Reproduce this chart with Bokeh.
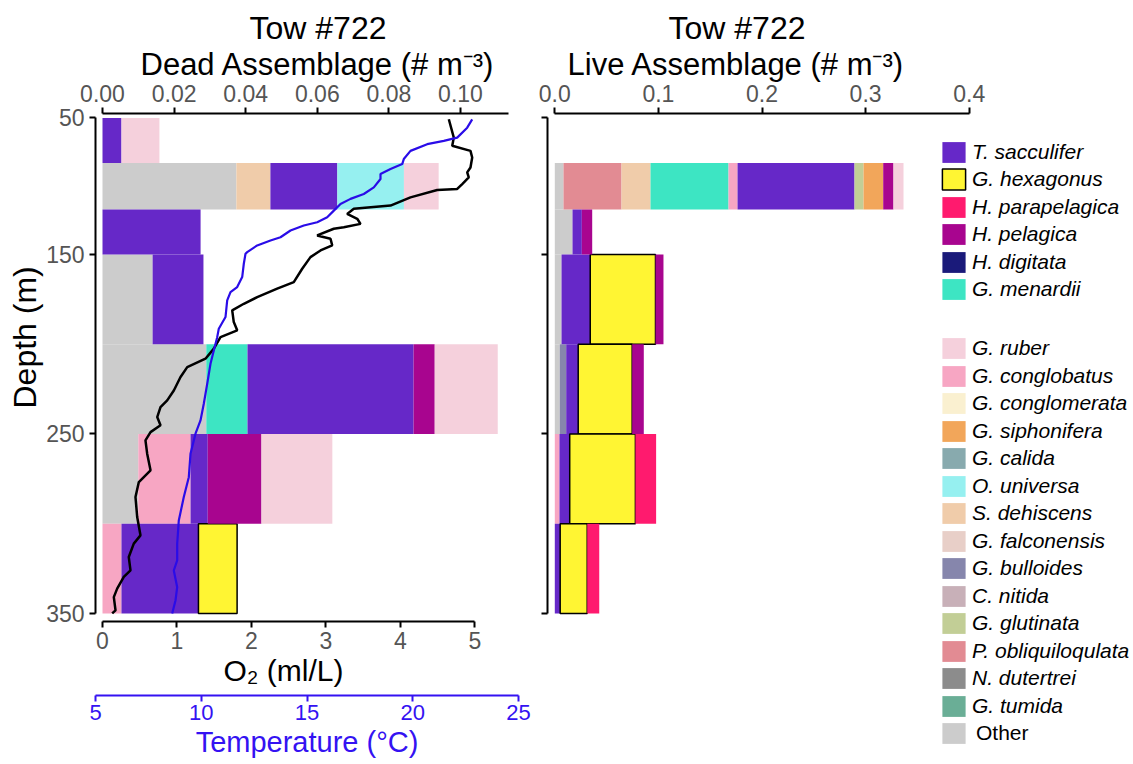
import numpy as np
from bokeh.plotting import figure
from bokeh.models import (Range1d, FixedTicker, ColumnDataSource, Legend, LegendItem,
                          Title, NumeralTickFormatter, CustomJSTickFormatter, LinearAxis)
from bokeh.layouts import row, column
from bokeh.embed import file_html
from bokeh.resources import INLINE

FONT = "Liberation Sans"
TICK_GRAY = "#555555"
BLUE_AXIS = "#3412f2"
BLUE_LINE = "#2a0ce8"

# ---------------- data ----------------
tow_title = "Tow #722"
dead_title = "Dead Assemblage (# m⁻³)"
live_title = "Live Assemblage (# m⁻³)"
depth_label = "Depth (m)"
o2_label = "O₂ (ml/L)"
temp_label = "Temperature (°C)"

depth_top = [50, 83, 117, 150, 200, 250, 300]
depth_bottom = [83, 117, 150, 200, 250, 300, 350]
depth_ticks = [50, 150, 250, 350]
dead_ticks = [0, 0.02, 0.04, 0.06, 0.08, 0.10]
live_ticks = [0, 0.1, 0.2, 0.3, 0.4]
o2_ticks = [0, 1, 2, 3, 4, 5]
temp_ticks = [5, 10, 15, 20, 25]

legend_species = ["T. sacculifer", "G. hexagonus", "H. parapelagica", "H. pelagica",
                  "H. digitata", "G. menardii",
                  "G. ruber", "G. conglobatus", "G. conglomerata", "G. siphonifera",
                  "G. calida", "O. universa", "S. dehiscens", "G. falconensis",
                  "G. bulloides", "C. nitida", "G. glutinata", "P. obliquiloqulata",
                  "N. dutertrei", "G. tumida", "Other"]
legend_colors = ["#6628c8", "#fff533", "#ff1a6e", "#a8058f", "#1a1a7a", "#3de5c3",
                 "#f5d0dc", "#f7a6c3", "#faf0d0", "#f2a65a", "#88aaae", "#96f0f0",
                 "#f0ccaa", "#e8cfc8", "#8686ac", "#c8b0b8", "#c2ce96", "#e28b93",
                 "#8c8c8c", "#6aae96", "#cccccc"]

stack_order = ["Other", "P. obliquiloqulata", "S. dehiscens", "G. menardii", "G. bulloides",
               "G. conglobatus", "T. sacculifer", "O. universa", "G. glutinata",
               "G. siphonifera", "G. hexagonus", "H. pelagica", "H. parapelagica", "G. ruber",
               "H. digitata", "G. conglomerata", "G. calida", "G. falconensis", "C. nitida",
               "N. dutertrei", "G. tumida"]

# Dead assemblage (# m^-3) per depth bin
dead_other = [0, 0.0374, 0, 0.0140, 0.0290, 0.0100, 0]
dead_s_dehiscens = [0, 0.0095, 0, 0, 0, 0, 0]
dead_g_menardii = [0, 0, 0, 0, 0.0115, 0, 0]
dead_g_conglobatus = [0, 0, 0, 0, 0, 0.0146, 0.0053]
dead_t_sacculifer = [0.0053, 0.0187, 0.0274, 0.0142, 0.0464, 0.0048, 0.0215]
dead_o_universa = [0, 0.0186, 0, 0, 0, 0, 0]
dead_g_hexagonus = [0, 0, 0, 0, 0, 0, 0.0108]
dead_h_pelagica = [0, 0, 0, 0, 0.0059, 0.0150, 0]
dead_g_ruber = [0.0106, 0.0097, 0, 0, 0.0176, 0.0198, 0]

# Live assemblage (# m^-3) per depth bin
live_other = [0, 0.0084, 0.0171, 0.0065, 0.0048, 0, 0]
live_p_obliquiloqulata = [0, 0.0560, 0, 0, 0, 0, 0]
live_s_dehiscens = [0, 0.0280, 0, 0, 0, 0, 0]
live_g_menardii = [0, 0.0753, 0, 0, 0, 0, 0]
live_g_bulloides = [0, 0, 0, 0, 0.0062, 0, 0]
live_g_conglobatus = [0, 0.0087, 0, 0, 0, 0.0045, 0]
live_t_sacculifer = [0, 0.1129, 0.0090, 0.0277, 0.0116, 0.0099, 0.0052]
live_g_glutinata = [0, 0.0087, 0, 0, 0, 0, 0]
live_g_siphonifera = [0, 0.0190, 0, 0, 0, 0, 0]
live_g_hexagonus = [0, 0, 0, 0.0630, 0.0521, 0.0634, 0.0261]
live_h_pelagica = [0, 0.0099, 0.0100, 0.0077, 0.0112, 0, 0]
live_h_parapelagica = [0, 0, 0, 0, 0, 0.0200, 0.0116]
live_g_ruber = [0, 0.0097, 0, 0, 0, 0, 0]

# O2 profile (ml/L) vs depth (m)
o2_depth = [50.9, 64.4, 70.4, 74.1, 79.0, 86.3, 89.9, 93.6, 98.4, 102.0, 102.8, 108.2,
            114.2, 116.6, 120.3, 123.9, 127.6, 130.1, 131.2, 136.1, 138.5, 143.4, 147.1,
            151.5, 158.0, 165.4, 169.1, 173.8, 177.5, 181.2, 187.7, 192.3, 196.1, 202.5,
            208.1, 212.8, 218.3, 225.8, 231.3, 235.1, 240.6, 245.2, 249.0, 253.6, 261.0,
            270.3, 276.8, 285.2, 296.3, 306.5, 311.1, 318.6, 326.0, 329.7, 336.2, 340.9,
            348.3, 350.1]
o2_value = [4.651, 4.718, 4.697, 4.942, 4.965, 4.942, 4.898, 4.919, 4.831, 4.764, 4.495,
            4.136, 3.868, 3.375, 3.286, 3.421, 3.465, 3.241, 3.106, 2.883, 3.062, 3.085,
            2.928, 2.793, 2.682, 2.569, 2.346, 2.078, 1.898, 1.742, 1.763, 1.809, 1.585,
            1.495, 1.383, 1.138, 1.048, 0.958, 0.869, 0.779, 0.735, 0.779, 0.645, 0.577,
            0.600, 0.645, 0.488, 0.443, 0.466, 0.510, 0.420, 0.353, 0.376, 0.286, 0.197,
            0.152, 0.175, 0.130]

# Temperature profile (deg C) vs depth (m)
temp_depth = [51.0, 57.1, 64.4, 66.8, 69.2, 74.1, 80.1, 83.8, 87.4, 91.1, 94.7, 100.9,
              105.7, 109.3, 113.0, 117.9, 122.8, 126.4, 128.8, 132.5, 137.4, 139.8, 143.4,
              148.3, 149.5, 155.2, 162.6, 168.2, 171.0, 175.6, 184.9, 191.4, 196.1, 203.5,
              210.9, 222.1, 233.2, 242.5, 249.9, 261.1, 274.1, 285.2, 298.2, 311.2, 320.5,
              326.1, 335.4, 342.8, 350.2]
temp_value = [22.895, 22.668, 22.214, 21.605, 20.850, 20.091, 19.786, 19.714, 19.182,
              18.727, 18.727, 18.423, 17.968, 17.364, 16.909, 16.605, 16.305, 15.850,
              15.241, 14.636, 14.182, 13.727, 13.123, 12.668, 12.591, 12.514, 12.441,
              12.214, 11.909, 11.759, 11.682, 11.377, 11.305, 11.150, 11.000, 10.850,
              10.695, 10.545, 10.318, 10.091, 10.014, 9.786, 9.559, 9.486, 9.486, 9.332,
              9.486, 9.409, 9.259]

# ---------------- helpers ----------------
color_of = dict(zip(legend_species, legend_colors))

dead_values = {
    "Other": dead_other, "S. dehiscens": dead_s_dehiscens, "G. menardii": dead_g_menardii,
    "G. conglobatus": dead_g_conglobatus, "T. sacculifer": dead_t_sacculifer,
    "O. universa": dead_o_universa, "G. hexagonus": dead_g_hexagonus,
    "H. pelagica": dead_h_pelagica, "G. ruber": dead_g_ruber,
}
live_values = {
    "Other": live_other, "P. obliquiloqulata": live_p_obliquiloqulata,
    "S. dehiscens": live_s_dehiscens, "G. menardii": live_g_menardii,
    "G. bulloides": live_g_bulloides, "G. conglobatus": live_g_conglobatus,
    "T. sacculifer": live_t_sacculifer, "G. glutinata": live_g_glutinata,
    "G. siphonifera": live_g_siphonifera, "G. hexagonus": live_g_hexagonus,
    "H. pelagica": live_h_pelagica, "H. parapelagica": live_h_parapelagica,
    "G. ruber": live_g_ruber,
}

# the depth axis is drawn compressed above 150 m (as in the original)
Y50 = 74.0
PX_PER_UNIT = 1.795


def depth_pos(d):
    return np.interp(np.asarray(d, dtype=float), [50, 150, 350], [Y50, 150, 350])


depth_formatter = CustomJSTickFormatter(args=dict(y50=Y50), code="""
if (tick < 150) { return (50 + (tick - y50) * 100 / (150 - y50)).toFixed(0); }
return tick.toFixed(0);
""")
blank_formatter = CustomJSTickFormatter(code="return '';")


def style_axis(ax, color="black", label_color=TICK_GRAY, title_color="black",
               label_size="23px", title_size="30px", standoff=5):
    ax.axis_line_color = color
    ax.axis_line_width = 2
    ax.major_tick_line_color = color
    ax.major_tick_line_width = 2
    ax.major_tick_in = 0
    ax.major_tick_out = 6
    ax.minor_tick_line_color = None
    ax.major_label_text_font = FONT
    ax.major_label_text_font_size = label_size
    ax.major_label_text_color = label_color
    ax.major_label_standoff = standoff
    ax.axis_label_text_font = FONT
    ax.axis_label_text_font_size = title_size
    ax.axis_label_text_font_style = "normal"
    ax.axis_label_text_color = title_color
    ax.axis_label_standoff = 3


def text_title(text, offset, size="31px", color="black", standoff=0):
    return Title(text=text, align="left", offset=offset, text_font=FONT,
                 text_font_size=size, text_font_style="normal", text_color=color,
                 standoff=standoff)


def draw_bars(p, values, all_species=False):
    nbins = len(depth_top)
    names = [s for s in stack_order if all_species or s in values]
    top = depth_pos(depth_top)
    bot = depth_pos(depth_bottom)
    data = {s: values.get(s, [0] * nbins) for s in names}
    data["mid"] = (top + bot) / 2
    data["h"] = bot - top
    data["hex_la"] = [1.0 if v > 0 else 0.0 for v in values["G. hexagonus"]]
    src = ColumnDataSource(data)
    fills = [color_of[s] for s in names]
    lcols = ["black" if s == "G. hexagonus" else color_of[s] for s in names]
    lalpha = ["hex_la" if s == "G. hexagonus" else 0 for s in names]
    rends = p.hbar_stack(names, y="mid", height="h", fill_color=fills, line_color=lcols,
                         line_alpha=lalpha, line_width=1.5, source=src)
    return dict(zip(names, rends)), data


# ---------------- left panel (dead) ----------------
FRAME_TOP = 113
p1 = figure(width=532, height=693, x_range=Range1d(-7 / 3580, 416 / 3580),
            y_range=Range1d(start=354.5, end=71.5),
            x_axis_location="above", title=None, toolbar_location=None,
            output_backend="svg", min_border_left=95, min_border_right=14,
            min_border_top=FRAME_TOP, min_border_bottom=72)
p1.extra_x_ranges = {"o2": Range1d(-7 / 74.46, 416 / 74.46),
                     "temp": Range1d(5 + 17 / 22, 25)}
p1.grid.visible = False
p1.outline_line_color = None

draw_bars(p1, dead_values)
p1.line(x=o2_value, y=depth_pos(o2_depth), x_range_name="o2", line_color="black",
        line_width=2.5)
p1.line(x=temp_value, y=depth_pos(temp_depth), x_range_name="temp",
        line_color=BLUE_LINE, line_width=2.2)

ax = p1.xaxis[0]
ax.ticker = FixedTicker(ticks=dead_ticks)
ax.formatter = NumeralTickFormatter(format="0.00")
ax.bounds = (0, 0.1134)
style_axis(ax, standoff=6)

yax = p1.yaxis[0]
yax.ticker = FixedTicker(ticks=list(depth_pos(depth_ticks)))
yax.formatter = depth_formatter
yax.bounds = (Y50, 350)
style_axis(yax, standoff=5)
p1.add_layout(text_title(depth_label, 213, size="32px", standoff=2), "left")

o2ax = LinearAxis(x_range_name="o2", ticker=FixedTicker(ticks=o2_ticks), bounds=(0, 5))
style_axis(o2ax, standoff=4)
p1.add_layout(o2ax, "below")
p1.add_layout(text_title(o2_label, 128, size="30px", standoff=0), "below")

p1.add_layout(text_title(dead_title, 45, size="31px"), "above")
p1.add_layout(text_title(tow_title, 154, size="32px", standoff=-3), "above")

# ---------------- temperature axis strip ----------------
pt = figure(width=532, height=71, x_range=Range1d(5, 25), y_range=Range1d(0, 1),
            y_axis_location=None, title=None, toolbar_location=None, output_backend="svg",
            min_border_left=78, min_border_right=14, min_border_top=0,
            min_border_bottom=69)
pt.grid.visible = False
pt.outline_line_color = None
tax = pt.xaxis[0]
tax.ticker = FixedTicker(ticks=temp_ticks)
tax.axis_label = temp_label
style_axis(tax, color=BLUE_AXIS, label_color=BLUE_AXIS, title_color=BLUE_AXIS,
           label_size="22px", title_size="29px", standoff=3)

# ---------------- right panel (live) ----------------
P2_W, P2_H, P2_LEFT = 601, 764, 15
FRAME_LEFT2 = 532 + P2_LEFT
frame_h2 = P2_H - FRAME_TOP
p2 = figure(width=P2_W, height=P2_H,
            x_range=Range1d(-7.3 / 1036, (P2_W - P2_LEFT - 7.3) / 1036),
            y_range=Range1d(start=71.5 + frame_h2 / PX_PER_UNIT, end=71.5),
            x_axis_location="above", title=None, toolbar_location=None,
            output_backend="svg", min_border_left=P2_LEFT, min_border_right=0,
            min_border_top=FRAME_TOP, min_border_bottom=0)
p2.grid.visible = False
p2.outline_line_color = None

live_rends, live_data = draw_bars(p2, live_values, all_species=True)

ax2 = p2.xaxis[0]
ax2.ticker = FixedTicker(ticks=live_ticks)
ax2.formatter = NumeralTickFormatter(format="0.0")
ax2.bounds = (0, 0.4)
style_axis(ax2, standoff=6)

yax2 = p2.yaxis[0]
yax2.ticker = FixedTicker(ticks=list(depth_pos(depth_ticks)))
yax2.formatter = blank_formatter
yax2.bounds = (Y50, 350)
style_axis(yax2)
yax2.major_label_standoff = 0

p2.add_layout(text_title(live_title, 20, size="31px"), "above")
p2.add_layout(text_title(tow_title, 121, size="32px", standoff=-3), "above")

# ---------------- legend ----------------
slot_centers = [152 + 27.4 * i for i in range(6)] + [348 + 27.5 * i for i in range(15)]
for name, cy in zip(legend_species, slot_centers):
    r = live_rends[name]
    hex_rows = [i for i, v in enumerate(live_data["hex_la"]) if v > 0]
    idx = hex_rows[0] if name == "G. hexagonus" else 0
    is_other = name == "Other"
    leg = Legend(items=[LegendItem(label=name, renderers=[r], index=idx)],
                 location=(939 - FRAME_LEFT2, P2_H - (cy + 13)),
                 padding=0, margin=0, spacing=0, glyph_width=29, glyph_height=26,
                 label_height=26, label_standoff=8 if is_other else 4,
                 label_text_font=FONT, label_text_font_size="21px",
                 label_text_font_style="normal" if is_other else "italic",
                 label_text_color="black", border_line_alpha=0,
                 background_fill_alpha=0)
    p2.add_layout(leg)

layout = row(column(p1, pt), p2)
open("out.html", "w").write(file_html(layout, INLINE))
